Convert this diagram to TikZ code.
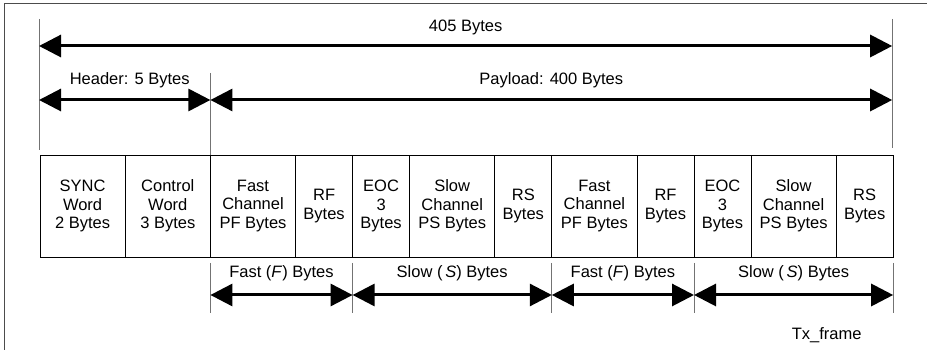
\documentclass[tikz,border=0pt]{standalone}
\usepackage{fontspec}
\setmainfont{Liberation Sans}
\usetikzlibrary{positioning, calc, arrows.meta}
\tikzset{
    Arrow/.style = {
        line width=3pt,
        {Triangle[length=22pt, width=22pt]}-{Triangle[length=22pt, width=22pt]}
    },
    Tick/.style = {
        draw=black!55, line width=1pt
    },
    Label/.style = {
        font=\fontsize{16.5}{18.5}\selectfont
    }
}
\tikzset{
Cell/.style={
  draw, line width=0.9pt,
  minimum height=102pt,
  inner sep=0pt, outer sep=0pt,
  align=center, anchor=west,
  Label
  },
Big/.style={Cell, minimum width=85.2pt},
Small/.style={Cell, minimum width=57pt}
}

\begin{document}
\begin{tikzpicture}[x=1pt, y=1pt]
    \useasboundingbox (0,0) rectangle (927,350);
    % frame
    \draw[draw=black!70, line width=1pt] (4,0) -- (4,346) -- (927,346);

    % cells
    \node[Big] (sync) at (40,144) {SYNC\\Word\\2 Bytes};
    \node[Big, right=0pt of sync] (ctrl) {Control\\Word\\3 Bytes};
    \node[Big, right=0pt of ctrl] (fast1) {Fast\\Channel\\PF Bytes};
    \node[Small, right=0pt of fast1] (rf1) {RF\\Bytes};
    \node[Small, right=0pt of rf1] (eoc1) {EOC\\3\\Bytes};
    \node[Big, right=0pt of eoc1] (slow1) {Slow\\Channel\\PS Bytes};
    \node[Small, right=0pt of slow1] (rs1) {RS\\Bytes};
    \node[Big, right=0pt of rs1] (fast2) {Fast\\Channel\\PF Bytes};
    \node[Small, right=0pt of fast2] (rf2) {RF\\Bytes};
    \node[Small, right=0pt of rf2] (eoc2) {EOC\\3\\Bytes};
    \node[Big, right=0pt of eoc2] (slow2) {Slow\\Channel\\PS Bytes};
    \node[Small, right=0pt of slow2] (rs2) {RS\\Bytes};

    % extension lines above
    \coordinate (A0) at ($(sync.north west)+(-1,136)$);
    \coordinate (A1) at ($(sync.north west)+(-1,5)$);
    \coordinate (B0) at ($(rs2.north east)+(-1,136)$);
    \coordinate (B1) at ($(rs2.north east)+(-1,7)$);
    \coordinate (C0) at ($(fast1.north west)+(0,82)$);
    \draw[Tick] (A0) -- (A1);
    \draw[Tick] (B0) -- (B1);
    \draw[Tick] (C0) -- (fast1.north west);

    % total, header and payload
    \draw[Arrow] ($(A0)+(0,-27)$) -- node[Label, yshift=19pt] (total) {405 Bytes} ($(B0)+(0,-27)$);
    \draw[Arrow] ($(A0)+(0,-81)$) -- node[Label, yshift=20pt, xshift=5pt] (header) {Header: 5 Bytes} ($(C0)+(0,-27)$);
    \draw[Arrow] ($(C0)+(0,-27)$) -- node[Label, yshift=20pt] (payload) {Payload: 400 Bytes} ($(B0)+(0,-81)$);

    % extension lines below
    \coordinate (F1) at ($(fast1.south west)+(0,-6)$);
    \coordinate (S1) at ($(eoc1.south west)+(0,-6)$);
    \coordinate (F2) at ($(fast2.south west)+(0,-6)$);
    \coordinate (S2) at ($(eoc2.south west)+(0,-6)$);
    \coordinate (E2) at ($(rs2.south east)+(0,-6)$);
    \draw[Tick] (F1) -- ++(0,-50);
    \draw[Tick] (S1) -- ++(0,-50);
    \draw[Tick] (F2) -- ++(0,-50);
    \draw[Tick] (S2) -- ++(0,-50);
    \draw[Tick] (E2) -- ++(0,-50);

    % fast and slow bytes
    \draw[Arrow] ($(F1)+(0,-32)$) -- node[Label, yshift=22pt] (fastb1) {Fast (\textit{F}) Bytes} ($(S1)+(0,-32)$);
    \draw[Arrow] ($(S1)+(0,-32)$) -- node[Label, yshift=22pt] (slowb1) {Slow (\,\textit{S}) Bytes} ($(F2)+(0,-32)$);
    \draw[Arrow] ($(F2)+(0,-32)$) -- node[Label, yshift=22pt] (fastb2) {Fast (\textit{F}) Bytes} ($(S2)+(0,-32)$);
    \draw[Arrow] ($(S2)+(0,-32)$) -- node[Label, yshift=22pt] (slowb2) {Slow (\,\textit{S}) Bytes} ($(E2)+(0,-32)$);

    \node[Label, anchor=east] (txframe) at (865,15) {Tx\_frame};
\end{tikzpicture}
\end{document}
